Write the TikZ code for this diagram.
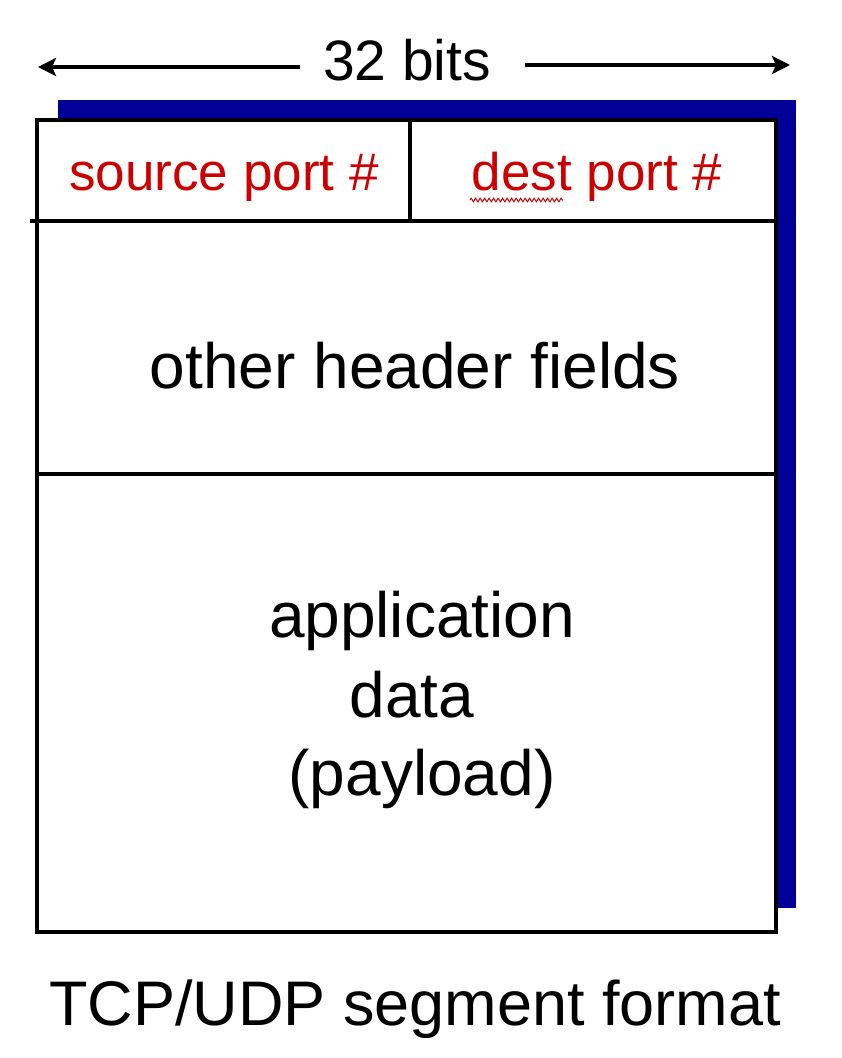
\documentclass[tikz,border=0pt]{standalone}
\usepackage{fontspec}
\setmainfont{Liberation Sans}
\usetikzlibrary{arrows.meta,decorations.pathmorphing}
\definecolor{shadowblue}{RGB}{0,0,153}
\definecolor{portred}{RGB}{204,0,0}
\tikzset{
  frame/.style={draw=black,line width=3.5pt},
  lbl/.style={inner sep=0pt,anchor=base,text=black},
  portlbl/.style={lbl,text=portred,font=\fontsize{53}{60}\selectfont},
  biglbl/.style={lbl,font=\fontsize{64}{72}\selectfont},
  dimarrow/.style={line width=3.5pt,-{Stealth[length=18pt,width=18pt,inset=4pt]}},
}
\begin{document}
\begin{tikzpicture}[x=1pt,y=-1pt]
\useasboundingbox (0,0) rectangle (842,1058);
% shadow
\fill[shadowblue] (58,100) rectangle (796,908);
% main box
\filldraw[fill=white,frame] (37,120) rectangle (776,932);
\draw[frame] (30,221) -- (776,221);
\draw[frame] (410,122) -- (410,221);
\draw[frame] (37,474) -- (776,474);
% width label
\node[lbl,font=\fontsize{57}{64}\selectfont] (bits) at (407,80) {32 bits};
\coordinate (lstart) at (300,67);
\coordinate (lend) at (38,67);
\coordinate (rstart) at (525,65);
\coordinate (rend) at (790,65);
\draw[dimarrow] (lstart) -- (lend);
\draw[dimarrow] (rstart) -- (rend);
% header fields
\node[portlbl] (src) at (224,190) {source port \#};
\node[portlbl] (dst) at (597,190) {dest port \#};
\coordinate (wavyA) at (470,200);
\coordinate (wavyB) at (563,200);
\draw[portred,line width=1pt,decorate,decoration={zigzag,amplitude=1.8pt,segment length=4.5pt}] (wavyA) -- (wavyB);
\node[biglbl] (other) at (415,388) {other header fields};
\node[biglbl] (app) at (422,637) {application};
\node[biglbl] (data) at (412,717) {data};
\node[biglbl] (pay) at (422,795) {(payload)};
% caption
\node[lbl,font=\fontsize{63}{70}\selectfont] (cap) at (415,1025) {TCP/UDP segment format};
\end{tikzpicture}
\end{document}
